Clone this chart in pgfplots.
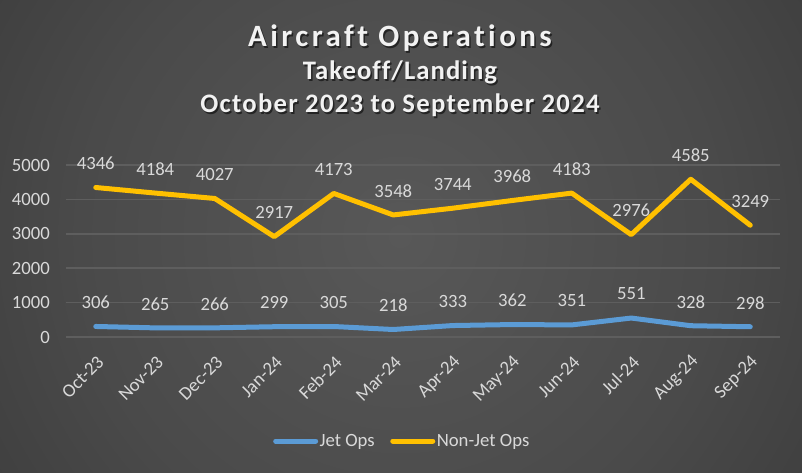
\documentclass[border=0pt]{standalone}
\usepackage{pgfplots}
\pgfplotsset{compat=1.18}
\usepackage{fontspec}
\setmainfont{Carlito}
\definecolor{jetblue}{HTML}{5B9BD5}
\definecolor{nonjet}{HTML}{FFC000}
\definecolor{lbl}{HTML}{D9D9D9}
\definecolor{gridc}{HTML}{5E5E5E}
\definecolor{bga}{HTML}{585858}
\definecolor{bgb}{HTML}{4A4A4A}
\definecolor{bgc}{HTML}{363636}
\definecolor{bgd}{HTML}{2A2A2A}
\definecolor{bge}{HTML}{222222}
\pgfdeclareradialshading{bgshade}{\pgfpoint{0bp}{0bp}}{color(0bp)=(bga); color(17bp)=(bgb); color(33bp)=(bgc); color(41bp)=(bgd); color(50bp)=(bge)}
\begin{document}
\begin{tikzpicture}[x=1pt,y=1pt]
\useasboundingbox (0,0) rectangle (802,473);
\begin{scope}
\clip (0,0) rectangle (802,473);
\shade[shading=bgshade] (-70,-233) rectangle (870,707);
\end{scope}
% titles
\begin{scope}[font=\bfseries]
\node[anchor=base, text=black, opacity=0.55] at (401.5,424.5) {\fontsize{31}{36}\selectfont\addfontfeatures{LetterSpace=11,Ligatures=CommonOff}Aircraft Operations};
\node[anchor=base, text=white!95!black] at (400,426) {\fontsize{31}{36}\selectfont\addfontfeatures{LetterSpace=11,Ligatures=CommonOff}Aircraft Operations};
\node[anchor=base, text=black, opacity=0.55] at (401.5,391.5) {\fontsize{26.7}{30}\selectfont\addfontfeatures{LetterSpace=4,Ligatures=CommonOff}Takeoff/Landing};
\node[anchor=base, text=white!95!black] at (400,393) {\fontsize{26.7}{30}\selectfont\addfontfeatures{LetterSpace=4,Ligatures=CommonOff}Takeoff/Landing};
\node[anchor=base, text=black, opacity=0.55] at (401.5,358.5) {\fontsize{26.7}{30}\selectfont\addfontfeatures{LetterSpace=4.8}October 2023 to September 2024};
\node[anchor=base, text=white!95!black] at (400,360) {\fontsize{26.7}{30}\selectfont\addfontfeatures{LetterSpace=4.8}October 2023 to September 2024};
\end{scope}
\begin{axis}[
  at={(66pt,136pt)}, anchor=south west,
  scale only axis, width=714pt, height=172pt,
  xmin=-0.5, xmax=11.5, ymin=0, ymax=5000,
  axis line style={draw=none},
  ytick={0,1000,2000,3000,4000,5000},
  xtick={0,...,11},
  xticklabels={Oct-23,Nov-23,Dec-23,Jan-24,Feb-24,Mar-24,Apr-24,May-24,Jun-24,Jul-24,Aug-24,Sep-24},
  major tick length=0pt,
  tick style={draw=none},
  ymajorgrids, grid style={gridc, line width=1.5pt},
  clip=false,
  /pgf/number format/assume math mode=true,
  /pgf/number format/1000 sep={},
  tick label style={font=\fontsize{18.7}{22}\selectfont, text=lbl},
  yticklabel style={anchor=east, inner sep=0pt, xshift=-16pt},
  xticklabel style={inner sep=0pt, anchor=east, xshift=5pt, yshift=-22pt, rotate=45},
  nodes near coords,
  every node near coord/.append style={font=\fontsize{18.7}{22}\selectfont, text=lbl, anchor=center, inner sep=0pt, yshift=24pt},
  legend image code/.code={\draw[#1, line width=5pt, line cap=round] (0pt,0pt) -- (40pt,0pt);},
  legend style={at={(0.4706,-0.6047)}, anchor=center, draw=none, fill=none,
    font=\fontsize{18.7}{22}\selectfont, text=lbl,
    legend columns=2, nodes={inner sep=1.5pt},
    /tikz/every even column/.append style={column sep=14pt}},
]
\addplot[jetblue, line width=5pt, line cap=round, line join=round, no markers] coordinates {
(0,306) (1,265) (2,266) (3,299) (4,305) (5,218) (6,333) (7,362) (8,351) (9,551) (10,328) (11,298)};
\addlegendentry{Jet Ops}
\addplot[nonjet, line width=5pt, line cap=round, line join=round, no markers] coordinates {
(0,4346) (1,4184) (2,4027) (3,2917) (4,4173) (5,3548) (6,3744) (7,3968) (8,4183) (9,2976) (10,4585) (11,3249)};
\addlegendentry{Non-Jet Ops}
\end{axis}
\end{tikzpicture}
\end{document}
